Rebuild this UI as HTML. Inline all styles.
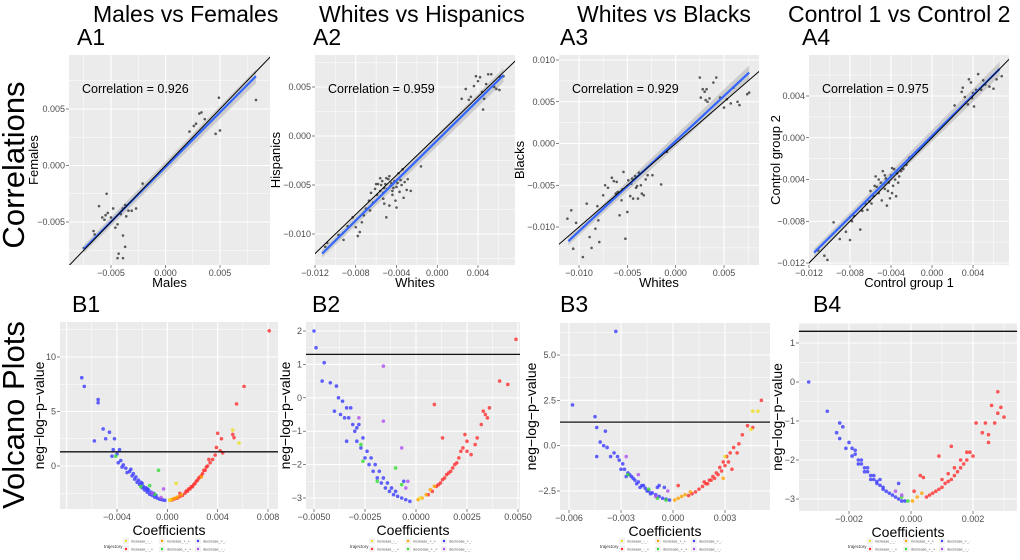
<!DOCTYPE html>
<html><head><meta charset="utf-8"><style>
body{margin:0;background:#fff;}
svg{display:block;font-family:"Liberation Sans",sans-serif;}
</style></head><body>
<svg id="fig" width="1020" height="560" viewBox="0 0 1020 560" xmlns="http://www.w3.org/2000/svg"></svg>
<script>
// ===== DATA (coefficients in units of 1e-3) =====
const a1X=[-7.5,-6.6,-6.5,-5.4,-6.1,-5.8,-5.5,-5.3,-5.0,-4.8,-4.6,-4.4,-4.2,-4.0,-3.9,-3.7,-3.6,-3.9,-3.7,-4.4,-4.3,-3.9,-3.4,-3.1,-2.7,-2.1,-5.6,-4.1,2.2,2.6,2.8,3.1,3.3,3.6,4.9,4.6,5.0,8.3];
const a1Y=[-7.3,-5.8,-6.1,-2.5,-3.6,-4.6,-4.4,-4.2,-4.6,-3.8,-5.5,-5.2,-4.2,-4.0,-3.8,-3.5,-4.5,-6.2,-7.2,-8.2,-7.8,-8.2,-4.0,-4.0,-3.8,-1.6,-4.8,-4.3,3.0,3.5,3.7,4.6,4.7,4.1,6.0,2.8,3.1,5.8];
const a1Fit=[[-7.5,-7.4],[8.3,7.9]];
const a2X=[-11,-10.8,-9.7,-9.2,-8.8,-8.3,-8,-7.8,-7.6,-7.4,-7.2,-7.0,-6.7,-6.5,-6.3,-6.1,-5.9,-5.8,-5.6,-5.5,-5.4,-5.3,-5.2,-5.1,-5.0,-4.9,-4.8,-4.7,-4.6,-4.5,-4.4,-4.3,-4.2,-4.1,-4.0,-3.9,-3.8,-3.7,-3.6,-3.5,-3.4,-3.3,-3.2,-3.0,-2.9,-2.6,-1.6,-5.0,-5.6,-6.0,-4.7,-4.4,-5.3,-4.0,-6.6,-5.2,2.4,2.8,3.1,3.3,3.6,4.0,4.2,4.4,4.6,4.5,5.0,5.3,5.6,5.8,6.1,6.2,6.5,4.8,3.8];
const a2Y=[-11.3,-10.9,-10.1,-10.6,-9.2,-8.3,-9.3,-10.2,-9.8,-8.8,-8.1,-7.4,-6.6,-5.8,-6.8,-5.4,-6.0,-4.9,-5.6,-5.0,-4.6,-6.4,-5.3,-4.9,-8.3,-5.4,-4.4,-7.1,-5.1,-4.8,-6.0,-5.3,-4.6,-6.6,-5.2,-4.8,-3.8,-5.7,-4.5,-5.0,-3.4,-6.3,-4.7,-5.5,-4.4,-5.6,-3.1,-4.3,-4.3,-4.9,-4.1,-5.6,-5.8,-7.3,-7.6,-6.9,3.8,4.8,3.7,4.0,5.1,5.6,6.0,4.5,3.8,2.7,6.3,6.3,5.0,4.8,4.7,6.0,6.1,5.3,6.1];
const a2Fit=[[-11.3,-12],[6.5,6.2]];
const a3X=[-11.2,-10.8,-10.6,-10.3,-9.6,-9.2,-8.9,-8.7,-8.3,-8.1,-8.0,-7.9,-7.5,-7.3,-7.0,-6.8,-6.6,-6.4,-6.2,-6.0,-5.8,-5.6,-5.4,-5.2,-5.0,-4.9,-4.7,-4.6,-4.4,-4.2,-4.1,-3.9,-3.8,-3.6,-3.5,-3.3,-3.1,-2.9,-2.4,-1.5,-0.9,-5.5,-4.0,-5.8,-4.5,-6.1,2.5,2.6,2.8,3.0,3.2,3.1,3.3,3.5,3.9,4.2,4.6,5.0,5.7,6.4,6.6,7.4,7.6,5.3,6.0];
const a3Y=[-9.0,-8.0,-12.6,-9.5,-13.6,-7.2,-11.2,-12.5,-10.2,-7.5,-9.2,-11.8,-6.2,-5.0,-5.3,-7.0,-4.1,-4.5,-6.0,-5.8,-8.6,-6.8,-3.4,-11.4,-8.2,-4.4,-6.3,-4.8,-6.6,-3.9,-5.3,-6.6,-3.5,-5.0,-6.0,-6.2,-4.3,-3.8,-3.8,-4.9,-1.0,-5.5,-5.1,-5.9,-4.2,-4.6,7.9,5.5,6.5,6.2,6.5,5.2,5.0,5.4,7.3,7.9,5.5,4.3,4.8,5.0,4.6,5.9,6.1,5.3,6.7];
const a3Fit=[[-11.1,-11.7],[7.6,8.5]];
const a4X=[-11.1,-10.5,-10.2,-9.6,-9.0,-8.4,-8.0,-7.8,-7.6,-7.0,-6.8,-6.5,-6.3,-6.0,-5.9,-5.7,-5.5,-5.4,-5.2,-5.0,-4.9,-4.8,-4.6,-4.5,-4.4,-4.3,-4.2,-4.0,-3.9,-3.8,-3.7,-3.6,-3.5,-3.4,-3.3,-3.2,-3.0,-2.8,-2.5,-2.2,-1.6,-1.3,-5.2,-4.7,-4.1,-3.9,-5.6,-6.1,-4.6,2.2,2.9,3.0,3.2,3.3,3.6,3.8,3.9,4.1,4.3,4.5,4.8,5.2,5.6,6.0,6.3,6.8,4.0,3.5,5.0];
const a4Y=[-10.8,-11.3,-11.7,-8.1,-9.7,-9.0,-9.8,-8.0,-7.5,-8.8,-7.0,-6.3,-6.9,-5.1,-6.3,-5.6,-3.7,-4.7,-5.3,-4.3,-6.0,-3.2,-4.9,-3.9,-6.5,-5.1,-4.3,-3.6,-5.3,-4.6,-3.0,-4.0,-5.6,-3.4,-4.3,-3.7,-3.2,-3.0,-2.6,-1.9,-1.4,-1.2,-4.0,-4.4,-5.8,-2.9,-4.6,-6.1,-3.6,3.1,4.4,4.8,3.9,3.4,5.6,5.3,3.8,3.0,4.6,6.1,4.6,5.1,4.9,4.7,5.6,5.9,4.3,3.2,5.5];
const a4Fit=[[-11.5,-11.0],[6.6,6.6]];
const correlations=["0.926","0.959","0.929","0.975"];

// Volcano: [coef(1e-3), neglogp]
const b1Blue=[[-6.8,8.1],[-6.6,7.3],[-5.5,6.1],[-5.5,5.8],[-5.1,3.4],[-4.6,3.1],[-5.8,2.3],[-4.9,2.5],[-4.2,2.5],[-4.3,1.5],[-3.8,1.5],[-4.4,0.9],[-4.0,1.1],[-3.7,0.5],[-3.5,0.1],[-3.3,-0.2],[-3.0,-0.5],[-2.8,-0.9],[-2.6,-1.2],[-2.4,-1.5],[-2.2,-1.7],[-2.0,-2.0],[-1.8,-2.2],[-1.6,-2.4],[-1.4,-2.6],[-1.2,-2.7],[-1.0,-2.85],[-0.8,-2.95],[-0.6,-3.05],[-0.4,-3.1],[-0.2,-3.15],[-3.2,-0.6],[-2.9,-0.3],[-2.5,-1.0],[-2.3,-1.3],[-2.1,-1.5],[-1.9,-1.9],[-1.7,-2.0],[-1.5,-2.2],[-1.3,-2.4],[-1.1,-2.5],[-0.9,-2.7],[-3.6,-0.1],[-3.9,0.3],[-2.7,-0.7],[-2.0,-1.6],[-1.6,-2.1]];
const b1Red=[[8.1,12.4],[6.1,7.3],[5.5,5.7],[4.0,3.0],[4.3,2.5],[3.9,1.7],[4.2,1.4],[3.8,1.0],[3.6,0.6],[3.4,0.3],[3.2,0],[3.0,-0.4],[2.8,-0.7],[2.6,-1.0],[2.4,-1.3],[2.2,-1.6],[2.0,-1.9],[1.8,-2.1],[1.6,-2.3],[1.4,-2.5],[1.2,-2.7],[1.0,-2.8],[0.8,-2.95],[0.6,-3.0],[0.4,-3.1],[3.3,0.6],[3.1,-0.1],[2.9,-0.4],[2.7,-0.9],[2.5,-1.1],[2.3,-1.4],[2.1,-1.7],[1.9,-1.9],[1.7,-2.1],[1.5,-2.3],[5.2,2.9],[5.3,2.6],[1.0,-2.5],[4.4,1.2]];
const b1Orange=[[0.2,-3.15],[0.4,-3.05],[0.6,-2.95],[0.8,-2.85],[1.1,-2.65],[2.7,-1.0]];
const b1Yellow=[[5.2,3.3],[5.7,2.1],[0.7,-1.6],[0.2,-3.1]];
const b1Green=[[-0.7,-0.4],[-1.4,-1.8],[-2.1,-1.9],[-4.1,0.9],[-1.0,-2.6]];
const b1Purple=[[-0.3,-2.1],[-0.5,-2.9],[-1.2,-2.5]];

const b2Blue=[[-5.0,2.0],[-4.9,1.5],[-4.5,1.05],[-4.6,0.5],[-4.2,0.45],[-3.9,0.35],[-3.8,0],[-3.6,-0.1],[-3.4,-0.3],[-3.3,-0.6],[-3.1,-0.8],[-3.0,-1.0],[-2.9,-1.3],[-2.7,-1.5],[-2.5,-1.8],[-2.3,-2.0],[-2.1,-2.2],[-1.9,-2.4],[-1.7,-2.55],[-1.5,-2.7],[-1.3,-2.8],[-1.1,-2.9],[-0.9,-2.95],[-0.7,-3.0],[-0.5,-3.05],[-0.3,-3.1],[-3.5,-0.6],[-3.2,-0.3],[-2.8,-0.8],[-2.6,-1.2],[-2.4,-1.6],[-2.2,-1.8],[-2.0,-2.0],[-1.8,-2.2],[-1.6,-2.4],[-1.4,-2.55],[-1.2,-2.7],[-1.0,-2.8],[-3.7,-0.5],[-4.0,-0.4],[-2.9,-0.9],[-3.4,-1.3],[-0.6,-2.5]];
const b2Red=[[4.9,1.75],[4.1,0.5],[4.5,0.4],[0.9,-0.2],[3.6,-0.3],[3.4,-0.5],[3.2,-0.8],[3.0,-1.2],[2.9,-1.4],[2.7,-1.7],[2.5,-1.6],[2.4,-1.1],[1.3,-1.2],[2.3,-1.5],[2.1,-1.8],[2.0,-1.95],[1.8,-2.1],[1.6,-2.25],[1.4,-2.4],[1.2,-2.55],[1.0,-2.65],[0.8,-2.8],[0.6,-2.9],[1.9,-2.0],[1.7,-2.2],[1.5,-2.3],[1.3,-2.45],[1.1,-2.6],[3.3,-0.4],[3.5,-0.6],[2.5,-1.3],[2.2,-1.6]];
const b2Orange=[[0.1,-3.05],[0.3,-3.0],[0.5,-2.9],[0.7,-2.75],[0.9,-2.65]];
const b2Yellow=[[0.2,-3.0]];
const b2Green=[[-2.6,-1.9],[-2.7,-1.4],[-1.0,-2.1],[-0.7,-2.6],[-1.9,-2.5]];
const b2Purple=[[-1.6,0.95],[-1.6,-0.7],[-0.7,-1.5],[-2.8,-0.6],[-0.4,-2.5],[-0.5,-2.7]];

const b3Blue=[[-5.8,2.25],[-3.3,6.3],[-4.5,1.6],[-4.4,1.0],[-3.9,0.8],[-4.2,0.2],[-4.0,0.0],[-3.8,-0.1],[-4.4,-0.6],[-3.6,-0.6],[-3.4,-0.4],[-3.2,-0.6],[-3.1,-0.8],[-2.9,-1.0],[-2.8,-1.3],[-2.6,-1.5],[-2.4,-1.7],[-2.2,-1.9],[-2.0,-2.0],[-1.8,-2.2],[-1.6,-2.35],[-1.4,-2.5],[-1.2,-2.6],[-1.0,-2.7],[-0.8,-2.8],[-0.6,-2.9],[-0.4,-2.95],[-0.2,-3.0],[-3.0,-1.3],[-2.7,-1.7],[-2.5,-1.6],[-2.3,-1.8],[-2.1,-2.1],[-1.9,-2.3],[-1.7,-2.2],[-1.5,-2.5],[-1.3,-2.65],[-0.8,-2.2],[-0.5,-2.3],[-0.9,-2.3]];
const b3Red=[[5.1,2.5],[4.6,1.0],[4.3,1.1],[4.0,0.6],[3.8,0.1],[3.5,-0.1],[3.3,-0.4],[3.1,-0.6],[2.9,-0.9],[2.7,-1.2],[2.5,-1.5],[2.3,-1.7],[2.1,-1.9],[1.9,-2.1],[1.7,-2.25],[1.5,-2.4],[1.3,-2.55],[1.1,-2.65],[0.9,-2.75],[3.2,-0.9],[3.0,-1.1],[2.8,-1.4],[2.6,-1.6],[2.4,-1.8],[2.2,-1.9],[2.0,-2.1],[1.8,-2.0],[3.7,-0.4],[0.3,-2.2],[3.4,-1.3]];
const b3Orange=[[0.1,-3.0],[0.3,-2.9],[0.5,-2.8],[0.7,-2.7],[1.0,-2.55],[2.9,-1.8]];
const b3Yellow=[[4.6,1.9],[4.9,1.9],[3.0,-0.6],[4.5,0.9]];
const b3Green=[[-1.4,-2.4],[-2.6,-1.6],[-0.4,-3.0],[-0.9,-2.9]];
const b3Purple=[[-2.7,-0.6],[-2.0,-1.6],[-0.3,-2.5],[-1.0,-2.8]];

const b4Blue=[[-3.3,0],[-2.7,-0.75],[-2.3,-1.05],[-2.2,-1.15],[-2.4,-1.3],[-2.3,-1.45],[-2.0,-1.55],[-1.9,-1.7],[-1.8,-1.85],[-1.7,-2.0],[-1.6,-2.1],[-1.5,-2.2],[-1.4,-2.3],[-1.3,-2.4],[-1.2,-2.5],[-1.1,-2.55],[-1.0,-2.65],[-0.9,-2.7],[-0.8,-2.8],[-0.7,-2.85],[-0.6,-2.9],[-0.5,-2.95],[-0.4,-3.0],[-0.3,-3.05],[-0.2,-3.05],[-1.9,-1.9],[-1.7,-2.1],[-1.5,-2.3],[-1.3,-2.5],[-1.1,-2.6],[-0.9,-2.75],[-1.6,-2.0],[-1.4,-2.2],[-1.2,-2.4],[-1.0,-2.5],[-0.4,-2.6],[-2.1,-1.7],[-1.8,-1.75]];
const b4Red=[[2.8,-0.25],[2.6,-0.6],[2.9,-0.65],[3.0,-0.9],[2.8,-0.8],[2.7,-1.05],[2.4,-1.05],[2.3,-1.3],[2.5,-1.35],[2.5,-1.55],[2.1,-1.05],[1.9,-1.8],[2.0,-1.9],[1.8,-2.0],[1.7,-2.1],[1.6,-2.2],[1.5,-2.3],[1.4,-2.4],[1.3,-2.5],[1.2,-2.55],[1.1,-2.6],[1.0,-2.7],[0.9,-2.75],[0.8,-2.8],[0.7,-2.85],[0.6,-2.9],[0.5,-2.95],[1.3,-1.65],[0.9,-1.9],[1.8,-1.8],[1.6,-2.0],[1.4,-2.2],[1.2,-2.35],[1.0,-2.5],[0.3,-2.4],[0.4,-2.45],[0.1,-2.8]];
const b4Orange=[[0.05,-3.05],[0.2,-2.95],[0.35,-2.85]];
const b4Yellow=[];
const b4Green=[[-0.1,-3.05],[-0.3,-2.95]];
const b4Purple=[[-0.5,-2.8],[-0.3,-2.9]];
const threshold=1.3;

const a1XTicks=[-5,0,5], a1YTicks=[5,0,-5];
const a2XTicks=[-12,-8,-4,0,4], a2YTicks=[5,0,-5,-10];
const a3XTicks=[-10,-5,0,5], a3YTicks=[10,5,0,-5,-10];
const a4XTicks=[-12,-8,-4,0,4], a4YTicks=[4,0,-4,-8,-12];
const b1XTicks=[-4,0,4,8], b1YTicks=[10,5,0];
const b2XTicks=[-5,-2.5,0,2.5,5], b2YTicks=[2,1,0,-1,-2,-3];
const b3XTicks=[-6,-3,0,3], b3YTicks=[5,2.5,0,-2.5];
const b4XTicks=[-2,0,2], b4YTicks=[1,0,-1,-2,-3];
const legendLabels=["increase_-_-","increase_+_+","decrease_+_-","increase_-_+","decrease_+_+","decrease_-_-"];

// ===== DRAWING =====
const NS="http://www.w3.org/2000/svg";
const svg=document.getElementById('fig');
function mk(tag,attrs,parent,text){const e=document.createElementNS(NS,tag);for(const k in attrs)e.setAttribute(k,attrs[k]);if(text!==undefined)e.textContent=text;(parent||svg).appendChild(e);return e;}
function lin(d0,p0,d1,p1){return v=>p0+(v-d0)*(p1-p0)/(d1-d0);}
function fmt(v,dec){const s=(v*1e-3).toFixed(dec);return s.startsWith('-')?'\u2212'+s.slice(1):s;}

function panel(id,box,xs,ys,xt,yt,xdec,ydec,xlab,ylab,ylabX,isVolcano){
  const g=mk('g',{},svg);
  
  
  const [L,T,R,B]=box;
  mk('rect',{x:L,y:T,width:R-L,height:B-T,fill:'#ebebeb'},g);
  const cp=mk('clipPath',{id:'cp'+id},g);mk('rect',{x:L,y:T,width:R-L,height:B-T},cp);
  const grid=mk('g',{},g);
  
  
  const xstep=xt[1]-xt[0], ystep=yt[0]-yt[1];
  for(let i=-2;i<xt.length+2;i++){const v=xt[0]+i*xstep;
    [[v,1.1],[v+xstep/2,0.5]].forEach(([vv,w])=>{const p=xs(vv);if(p>L&&p<R)mk('line',{x1:p,x2:p,y1:T,y2:B,stroke:'#fff','stroke-width':w},grid);});}
  for(let i=-2;i<yt.length+2;i++){const v=yt[0]-i*ystep;
    [[v,1.1],[v-ystep/2,0.5]].forEach(([vv,w])=>{const p=ys(vv);if(p>T&&p<B)mk('line',{y1:p,y2:p,x1:L,x2:R,stroke:'#fff','stroke-width':w},grid);});}
  xt.forEach(v=>{const p=xs(v);if(p<L-2||p>R+14)return;
    mk('line',{x1:p,x2:p,y1:B,y2:B+3,stroke:'#333','stroke-width':0.6},g);
    const t=mk('text',{x:p,y:B+11,'font-size':9,fill:'#4d4d4d','text-anchor':'middle'},g,fmt(v,xdec));
    
    });
  yt.forEach(v=>{const p=ys(v);
    mk('line',{x1:L-3,x2:L,y1:p,y2:p,stroke:'#333','stroke-width':0.6},g);
    const t=mk('text',{x:L-4,y:p+3,'font-size':9,fill:'#4d4d4d','text-anchor':'end'},g,isVolcano?String(v%1===0&&ydec===0?v:v.toFixed(ydec)).replace('-','\u2212'):fmt(v,ydec));
    
    });
  const xl=mk('text',{x:(L+R)/2,y:B+(isVolcano?26:22),'font-size':isVolcano?14:13,fill:'#000','text-anchor':'middle'},g,xlab);
  
  
  const cy=(T+B)/2;
  const yl=mk('text',{x:ylabX,y:cy,'font-size':isVolcano?14:13,fill:'#000','text-anchor':'middle',transform:`rotate(-90 ${ylabX} ${cy})`},g,ylab);
  
  
  const inner=mk('g',{'clip-path':`url(#cp${id})`},g);
  return inner;
}

function corrPanel(id,box,xc,yc,xt,yt,xdec,ydec,xlab,ylab,ylabX,X,Y,fit,corr){
  const xs=lin(xc[0],xc[1],xc[2],xc[3]), ys=lin(yc[0],yc[1],yc[2],yc[3]);
  const g=panel(id,box,xs,ys,xt,yt,xdec,ydec,xlab,ylab,ylabX,false);
  const [x0,y0]=fit[0],[x1,y1]=fit[1];
  const band=mk('polygon',{points:`${xs(x0)},${ys(y0)-4} ${xs(x1)},${ys(y1)-7} ${xs(x1)},${ys(y1)+7} ${xs(x0)},${ys(y0)+4}`,fill:'#c4c4c4',opacity:0.8},g);
  
  
  X.forEach((v,i)=>{const c=mk('circle',{cx:xs(v),cy:ys(Y[i]),r:1.3,fill:'#333',opacity:0.8},g);
    
    });
  const bl=mk('line',{x1:xs(x0),y1:ys(y0),x2:xs(x1),y2:ys(y1),stroke:'#3366ff','stroke-width':2.2},g);
  
  
  const id1=mk('line',{x1:xs(-20),y1:ys(-20),x2:xs(20),y2:ys(20),stroke:'#000','stroke-width':1},g);
  
  
  const ct=mk('text',{x:box[0]+13,y:93,'font-size':12.5,fill:'#000'},svg,'Correlation = '+corr);
  
  
}

const cols={blue:'#3b3bff',red:'#ff3030',orange:'#ffa500',yellow:'#f0e020',green:'#33dd33',purple:'#b050f0'};
function volcPanel(id,box,xc,yc,xt,yt,xdec,ydec,ylabX,groups,legX){
  const xs=lin(xc[0],xc[1],xc[2],xc[3]), ys=lin(yc[0],yc[1],yc[2],yc[3]);
  const g=panel(id,box,xs,ys,xt,yt,xdec,ydec,'Coefficients','neg\u2212log\u2212p\u2212value',ylabX,true);
  groups.forEach(([name,arr])=>arr.forEach(([x,y])=>{const c=mk('circle',{cx:xs(x),cy:ys(y),r:1.8,fill:cols[name],opacity:0.8},g);
    
    }));
  const hl=mk('line',{x1:box[0],x2:box[2],y1:ys(threshold),y2:ys(threshold),stroke:'#111','stroke-width':1.3},g);
  
  
  const lg=mk('g',{},svg);
  
  
  mk('text',{x:legX,y:548,'font-size':4.5,fill:'#333'},lg,'trajectory');
  const lc=['yellow','orange','blue','red','green','purple'];
  legendLabels.forEach((lab,i)=>{const cx=legX+22+(i%3)*36, cy=541+Math.floor(i/3)*8;
    mk('rect',{x:cx-3,y:cy-3,width:6,height:6,fill:'#f2f2f2'},lg);
    mk('circle',{cx:cx,cy:cy,r:1.2,fill:cols[lc[i]]},lg);
    mk('text',{x:cx+5,y:cy+1.5,'font-size':3.8,fill:'#555'},lg,lab);});
}

corrPanel('a1',[69,55,270,265],[-5,111,5,220],[5,109,-5,222],a1XTicks,a1YTicks,3,3,'Males','Females',38,a1X,a1Y,a1Fit,correlations[0]);
corrPanel('a2',[315,55,515,265],[-12,315,4,478],[5,87,-10,234],a2XTicks,a2YTicks,3,3,'Whites','Hispanics',280,a2X,a2Y,a2Fit,correlations[1]);
corrPanel('a3',[559,55,759,265],[-10,579,5,724],[10,60,-10,227],a3XTicks,a3YTicks,3,3,'Whites','Blacks',524,a3X,a3Y,a3Fit,correlations[2]);
corrPanel('a4',[809,55,1009,265],[-12,809,4,973],[4,96,-12,263],a4XTicks,a4YTicks,3,3,'Control group 1','Control group 2',780,a4X,a4Y,a4Fit,correlations[3]);

volcPanel('b1',[60,322,278,509],[-4,117,8,268],[10,357,0,466],b1XTicks,b1YTicks,3,0,44,[['blue',b1Blue],['red',b1Red],['orange',b1Orange],['yellow',b1Yellow],['green',b1Green],['purple',b1Purple]],104);
volcPanel('b2',[306,322,520,509],[-5,314,5,518],[2,331,-3,498],b2XTicks,b2YTicks,4,0,290,[['blue',b2Blue],['red',b2Red],['orange',b2Orange],['yellow',b2Yellow],['green',b2Green],['purple',b2Purple]],350);
volcPanel('b3',[560,323,770,510],[-6,569,3,725],[5,355,-2.5,491],b3XTicks,b3YTicks,3,1,536,[['blue',b3Blue],['red',b3Red],['orange',b3Orange],['yellow',b3Yellow],['green',b3Green],['purple',b3Purple]],600);
volcPanel('b4',[799,323,1017,511],[-2,849,2,973],[1,343,-3,499],b4XTicks,b4YTicks,3,0,782,[['blue',b4Blue],['red',b4Red],['orange',b4Orange],['yellow',b4Yellow],['green',b4Green],['purple',b4Purple]],848);

// titles & labels
[['Males vs Females',93],['Whites vs Hispanics',319],['Whites vs Blacks',577],['Control 1 vs Control 2',788]].forEach(([t,x])=>{
  const e=mk('text',{x:x,y:22,'font-size':23,fill:'#000'},svg,t);
  
  });
[['A1',77,45],['A2',313,45],['A3',560,45],['A4',802,45],['B1',72,312],['B2',312,312],['B3',560,312],['B4',813,312]].forEach(([t,x,y])=>{
  const e=mk('text',{x:x,y:y,'font-size':23,fill:'#000'},svg,t);
  
  });
[['Correlations',165],['Volcano Plots',415]].forEach(([t,cy])=>{
  const e=mk('text',{x:24,y:cy,'font-size':31,fill:'#000','text-anchor':'middle',transform:`rotate(-90 24 ${cy})`},svg,t);
  
  });
</script>
</body></html>
